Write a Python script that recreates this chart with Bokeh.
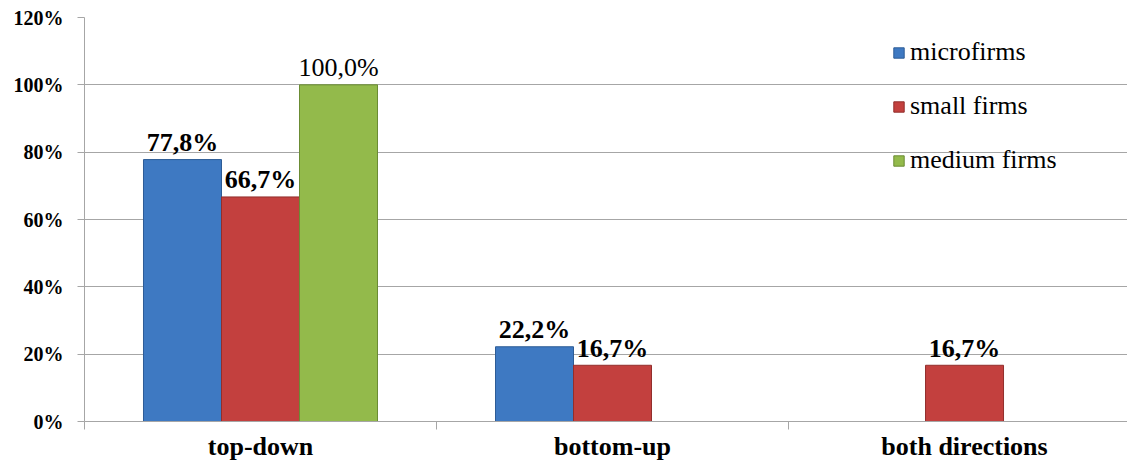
from bokeh.plotting import figure
from bokeh.models import (ColumnDataSource, Range1d, FixedTicker, NumeralTickFormatter,
                          Legend, LegendItem)
from bokeh.embed import file_html
from bokeh.resources import INLINE
from bokeh.core.properties import value

# ---- data ----
categories = ["top-down", "bottom-up", "both directions"]
series_names = ["microfirms", "small firms", "medium firms"]
microfirms = [0.778, 0.222, 0.0]
small_firms = [0.667, 0.167, 0.167]
medium_firms = [1.000, 0.0, 0.0]
y_ticks = [0, 0.2, 0.4, 0.6, 0.8, 1.0, 1.2]

# ---- styles ----
fill_colors = ["#3E79C2", "#C3403E", "#93BA4B"]
edge_colors = ["#2D5C96", "#922E2C", "#6B8C34"]
label_styles = ["bold", "bold", "normal"]
FONT = "'Liberation Serif', 'Times New Roman', serif"
GRID = "#A6A6A6"
BAR_W = 0.2216

p = figure(width=1127, height=463, output_backend="svg", toolbar_location=None,
           x_range=Range1d(0, 2.963), y_range=Range1d(0, 1.2),
           min_border_left=84, min_border_right=0, min_border_top=17)
p.outline_line_color = None
p.background_fill_color = "white"

series = [microfirms, small_firms, medium_firms]
legend_items = []
for j, (name, vals) in enumerate(zip(series_names, series)):
    xs, tops, texts = [], [], []
    for i, v in enumerate(vals):
        if v > 0:
            xs.append(i + 0.5 + (j - 1) * BAR_W)
            tops.append(v)
            texts.append(f"{v * 100:.1f}%".replace(".", ","))
    src = ColumnDataSource(dict(x=xs, top=tops, text=texts))
    r = p.vbar(x="x", top="top", width=BAR_W, bottom=0, source=src,
               fill_color=fill_colors[j], line_color=edge_colors[j], line_width=1)
    p.text(x="x", y="top", text="text", source=src, text_align="center",
           text_baseline="alphabetic", y_offset=-17,
           text_font=value(FONT), text_font_size="26px",
           text_font_style=label_styles[j], text_color="black")
    legend_items.append(LegendItem(label=name, renderers=[r]))

legend = Legend(items=legend_items, location=(808, 246), glyph_width=13, glyph_height=13,
                label_text_font=FONT, label_text_font_size="26px", label_text_color="black",
                spacing=24, padding=0, margin=0, label_standoff=5,
                border_line_alpha=0, background_fill_alpha=0)
p.add_layout(legend)

# y axis
p.yaxis.ticker = FixedTicker(ticks=y_ticks)
p.yaxis.formatter = NumeralTickFormatter(format="0%")
p.yaxis.major_label_text_font = FONT
p.yaxis.major_label_text_font_size = "20px"
p.yaxis.major_label_text_font_style = "bold"
p.yaxis.major_label_text_color = "black"
p.yaxis.axis_line_color = GRID
p.yaxis.major_tick_line_color = GRID
p.yaxis.major_tick_out = 7
p.yaxis.major_tick_in = 0
p.yaxis.minor_tick_line_color = None
p.yaxis.major_label_standoff = 14

p.ygrid.ticker = FixedTicker(ticks=y_ticks)
p.ygrid.grid_line_color = GRID
p.xgrid.grid_line_color = None

# x axis
p.xaxis.ticker = FixedTicker(ticks=[i + 0.5 for i in range(len(categories))],
                             minor_ticks=list(range(len(categories))))
p.xaxis.major_label_overrides = {i + 0.5: c for i, c in enumerate(categories)}
p.xaxis.major_label_text_font = FONT
p.xaxis.major_label_text_font_size = "26px"
p.xaxis.major_label_text_font_style = "bold"
p.xaxis.major_label_text_color = "black"
p.xaxis.axis_line_color = GRID
p.xaxis.major_tick_out = 0
p.xaxis.major_tick_in = 0
p.xaxis.major_tick_line_color = None
p.xaxis.minor_tick_out = 8
p.xaxis.minor_tick_in = 0
p.xaxis.minor_tick_line_color = GRID
p.xaxis.major_label_standoff = 2

open("out.html", "w").write(file_html(p, INLINE))
